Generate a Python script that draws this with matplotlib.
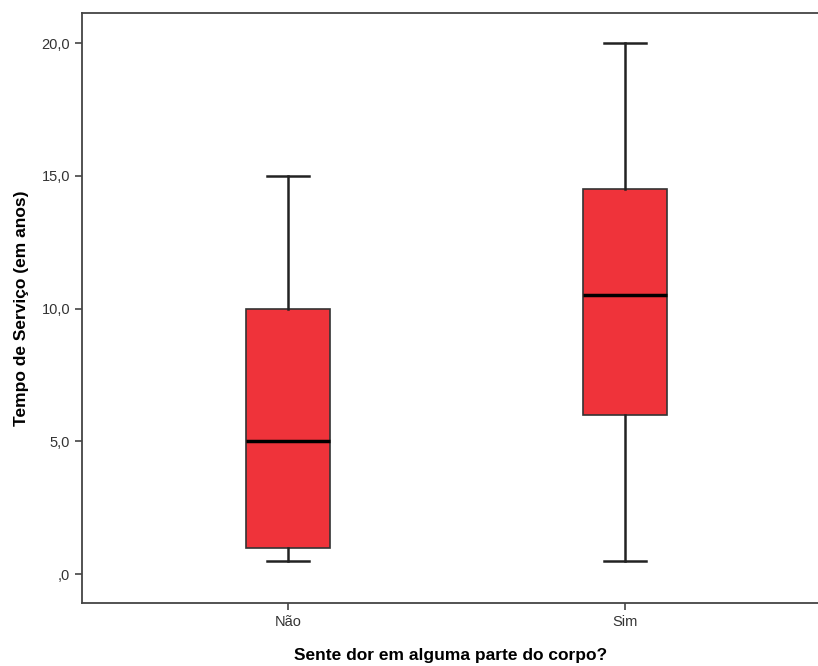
import matplotlib
matplotlib.use("Agg")
import matplotlib.pyplot as plt

categories = ["Não", "Sim"]
whislo = [0.5, 0.5]
q1 = [1.0, 6.0]
med = [5.0, 10.5]
q3 = [10.0, 14.5]
whishi = [15.0, 20.0]
yticks = [0, 5, 10, 15, 20]
yticklabels = [",0", "5,0", "10,0", "15,0", "20,0"]

plt.rcParams['font.family'] = ['Liberation Sans', 'DejaVu Sans']

fig = plt.figure(figsize=(8.18, 6.66), dpi=100)
ax = fig.add_axes([82/818, 63/666, 1 - 82/818 + 0.002, 590/666])

stats = []
for i, c in enumerate(categories):
    stats.append(dict(label=c, whislo=whislo[i], q1=q1[i], med=med[i],
                      q3=q3[i], whishi=whishi[i], fliers=[]))

ax.bxp(stats, positions=range(len(categories)), widths=0.25, patch_artist=True,
       showfliers=False,
       boxprops=dict(facecolor="#EF333A", edgecolor="#333333", linewidth=1.2),
       medianprops=dict(color="black", linewidth=2.5),
       whiskerprops=dict(color="#222222", linewidth=1.8),
       capprops=dict(color="#222222", linewidth=1.8),
       capwidths=0.125)

ax.set_xlim(-0.613, 1.58)
ax.set_ylim(-1.09, 21.13)
ax.set_yticks(yticks)
ax.set_yticklabels(yticklabels)
ax.set_xticks(range(len(categories)))
ax.set_xticklabels(categories)

for s in ax.spines.values():
    s.set_color("#444444")
    s.set_linewidth(1.3)
ax.spines['right'].set_visible(False)

ax.tick_params(axis='both', direction='out', length=5, width=1.2, colors="#444444",
               labelsize=10.5, labelcolor="#333333")

ax.set_ylabel("Tempo de Serviço (em anos)", fontsize=12.5, fontweight='bold', labelpad=9)
ax.set_xlabel("Sente dor em alguma parte do corpo?", fontsize=12.5, fontweight='bold', labelpad=14)

fig.savefig("out.png", dpi=100)
